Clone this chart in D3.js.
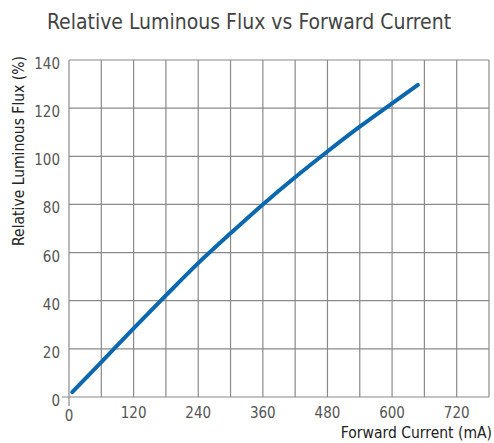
<!DOCTYPE html>
<html>
<head>
<meta charset="utf-8">
<script src="https://cdn.jsdelivr.net/npm/d3@7"></script>
<style>
  body { margin: 0; background: #fff; }
  svg text { font-family: "DejaVu Sans Condensed", "DejaVu Sans", sans-serif; }
</style>
</head>
<body>
<svg id="chart" width="494" height="443"></svg>
<script>
// readings: forward current (mA), relative flux (%)
const currentMA = [6, 60, 120, 180, 240, 300, 360, 420, 480, 540, 600, 648];
const fluxPct   = [2, 14.5, 28.5, 42.2, 55.6, 68, 80, 91.3, 102, 112.3, 122, 129.7];

const xGrid = d3.range(0, 781, 60);
const xTickLabels = [0, 120, 240, 360, 480, 600, 720];
const yTicks = [0, 20, 40, 60, 80, 100, 120, 140];

const svg = d3.select("#chart");
const plotL = 69, plotR = 489, plotT = 60, plotB = 397;

const x = d3.scaleLinear().domain([0, 780]).range([plotL, plotR]);
const y = d3.scaleLinear().domain([0, 140]).range([plotB, plotT]);

const grid = svg.append("g").attr("stroke", "#8a8a8a").attr("stroke-width", 1.2);

grid.selectAll(".vx").data(xGrid).join("line")
    .attr("x1", d => x(d)).attr("x2", d => x(d))
    .attr("y1", plotT).attr("y2", d => d === 0 ? plotB + 9 : plotB);

grid.selectAll(".hy").data(yTicks).join("line")
    .attr("y1", d => y(d)).attr("y2", d => y(d))
    .attr("x1", d => d === 0 ? plotL - 7 : plotL).attr("x2", plotR);

// tick labels
svg.append("g").selectAll("text").data(yTicks).join("text")
    .attr("x", 60).attr("y", d => y(d) + 9)
    .attr("text-anchor", "end")
    .attr("font-size", 15).attr("fill", "#555")
    .text(d => d);

svg.append("g").selectAll("text").data(xTickLabels).join("text")
    .attr("x", d => x(d)).attr("y", d => d === 0 ? 421 : 418)
    .attr("text-anchor", "middle")
    .attr("font-size", 15).attr("fill", "#555")
    .text(d => d);

// curve
const pts = currentMA.map((c, i) => [c, fluxPct[i]]);
svg.append("path")
    .datum(pts)
    .attr("fill", "none")
    .attr("stroke", "#0a68b0")
    .attr("stroke-width", 4)
    .attr("stroke-linecap", "round")
    .attr("d", d3.line().x(d => x(d[0])).y(d => y(d[1])).curve(d3.curveMonotoneX));

// titles
svg.append("text")
    .attr("x", 249).attr("y", 29)
    .attr("text-anchor", "middle")
    .attr("font-size", 21).attr("fill", "#444")
    .text("Relative Luminous Flux vs Forward Current");

svg.append("text")
    .attr("transform", "translate(24,151) rotate(-90)")
    .attr("text-anchor", "middle")
    .attr("font-size", 15.5).attr("fill", "#222")
    .text("Relative Luminous Flux (%)");

svg.append("text")
    .attr("x", 492).attr("y", 438)
    .attr("text-anchor", "end")
    .attr("font-size", 15.5).attr("fill", "#222")
    .text("Forward Current (mA)");
</script>
</body>
</html>
